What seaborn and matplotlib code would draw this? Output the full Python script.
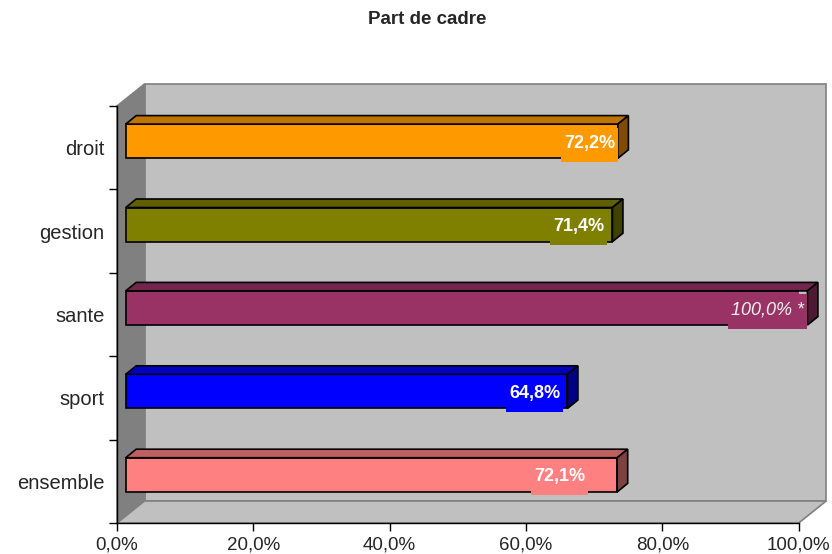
import numpy as np
import pandas as pd
import seaborn as sns
import matplotlib
matplotlib.use("Agg")
import matplotlib.pyplot as plt
from matplotlib.colors import to_rgb
from matplotlib.patches import Polygon, Rectangle
from matplotlib.transforms import IdentityTransform, offset_copy

# Data
categories = ["droit", "gestion", "sante", "sport", "ensemble"]
values = [72.2, 71.4, 100.0, 64.8, 72.1]
bar_colors = ["#FF9900", "#808000", "#993366", "#0000FF", "#FF8080"]
label_texts = ["72,2%", "71,4%", "100,0% *", "64,8%", "72,1%"]
xtick_values = [0, 20, 40, 60, 80, 100]
xtick_labels = ["0,0%", "20,0%", "40,0%", "60,0%", "80,0%", "100,0%"]

# 3D look (pixels)
WALL_DEPTH = (27.5, 22)
BAR_SHIFT = (8.7, 6.5)
BAR_DEPTH = (10.5, 8.5)
label_nudge = [0, 5, 0, 4, 29]

sns.set_style("white")
plt.rcParams["font.family"] = ["Liberation Sans", "DejaVu Sans"]

fig = plt.figure(figsize=(8.32, 5.54), dpi=100)
ax = fig.add_axes([117 / 832, 31 / 554, 681.7 / 832, 417 / 554])
ax.patch.set_visible(False)

df = pd.DataFrame({"cat": categories, "val": values})
sns.barplot(data=df, y="cat", x="val", hue="cat", palette=bar_colors,
            orient="h", width=0.41, legend=False, saturation=1,
            edgecolor="black", linewidth=1.2, ax=ax)
bars = list(ax.patches)

ax.set_xlim(0, 100)
ax.set_ylim(4.5, -0.5)
ax.set_xlabel("")
ax.set_ylabel("")
sns.despine(ax=ax, top=True, right=True)
for s in ["left", "bottom"]:
    ax.spines[s].set_color("black")
    ax.spines[s].set_linewidth(1)

ax.set_xticks(xtick_values)
ax.set_xticklabels(xtick_labels)
ax.set_yticks(np.arange(-0.5, 5, 1), minor=True)
ax.tick_params(axis="x", bottom=True, length=6, width=1, color="black",
               direction="out", pad=4, labelsize=13.5)
ax.tick_params(axis="y", which="major", left=True, length=0, pad=9, labelsize=14.5)
ax.tick_params(axis="y", which="minor", left=True, length=6, width=1,
               color="black", direction="out")

T = ax.transData
ident = IdentityTransform()


def px(x, y):
    return np.array(T.transform((x, y)))


# walls and floor
d = np.array(WALL_DEPTH)
fl, fr = px(0, 4.5), px(100, 4.5)
tl, tr = px(0, -0.5), px(100, -0.5)
walls = [
    ([fl + d, fr + d, tr + d, tl + d], "#C0C0C0"),   # back
    ([tl, fl, fl + d, tl + d], "#808080"),           # left side
    ([fl, fr, fr + d, fl + d], "#C0C0C0"),           # floor
]
for pts, col in walls:
    ax.add_patch(Polygon(pts, closed=True, facecolor=col, edgecolor="#808080",
                         linewidth=1.2, transform=ident, clip_on=False, zorder=0.2))

# 3D bars
shift = np.array(BAR_SHIFT)
bd = np.array(BAR_DEPTH)
renderer = fig.canvas.get_renderer()
for i, p in enumerate(bars):
    p.set_transform(offset_copy(T, fig=fig, x=BAR_SHIFT[0], y=BAR_SHIFT[1], units="dots"))
    p.set_zorder(1)
    x0, y0, w, h = p.get_x(), p.get_y(), p.get_width(), p.get_height()
    a = px(x0, y0) + shift
    b = px(x0 + w, y0 + h) + shift
    left, right = min(a[0], b[0]), max(a[0], b[0])
    bottom, top = min(a[1], b[1]), max(a[1], b[1])
    rgb = np.array(to_rgb(bar_colors[i]))
    top_face = [(left, top), (right, top), (right + bd[0], top + bd[1]), (left + bd[0], top + bd[1])]
    side_face = [(right, bottom), (right, top), (right + bd[0], top + bd[1]), (right + bd[0], bottom + bd[1])]
    ax.add_patch(Polygon(top_face, closed=True, facecolor=rgb * 0.75, edgecolor="black",
                         linewidth=1.2, transform=ident, clip_on=False, zorder=1))
    ax.add_patch(Polygon(side_face, closed=True, facecolor=rgb * 0.5, edgecolor="black",
                         linewidth=1.2, transform=ident, clip_on=False, zorder=1))

    # data label with a small tab of bar colour below it
    fs = 13
    em = fs * fig.dpi / 72
    cy = (top + bottom) / 2
    special = label_texts[i].endswith("*")
    t = ax.text(right - 3 - label_nudge[i], cy - 0.36 * em, label_texts[i],
                transform=ident, ha="right", va="baseline", fontsize=fs,
                color="#F0F0F0" if special else "white",
                fontweight="normal" if special else "bold",
                fontstyle="italic" if special else "normal",
                zorder=3, clip_on=False)
    bb = t.get_window_extent(renderer)
    ax.add_patch(Rectangle((bb.x0 - 3, bottom - 3.5), bb.width + 6, top - bottom,
                           facecolor=bar_colors[i], edgecolor="none",
                           transform=ident, clip_on=False, zorder=1.5))

fig.text(427 / 832, 1 - 20 / 554, "Part de cadre", ha="center", va="center",
         fontsize=13.5, fontweight="bold")

fig.savefig("out.png", dpi=100)
